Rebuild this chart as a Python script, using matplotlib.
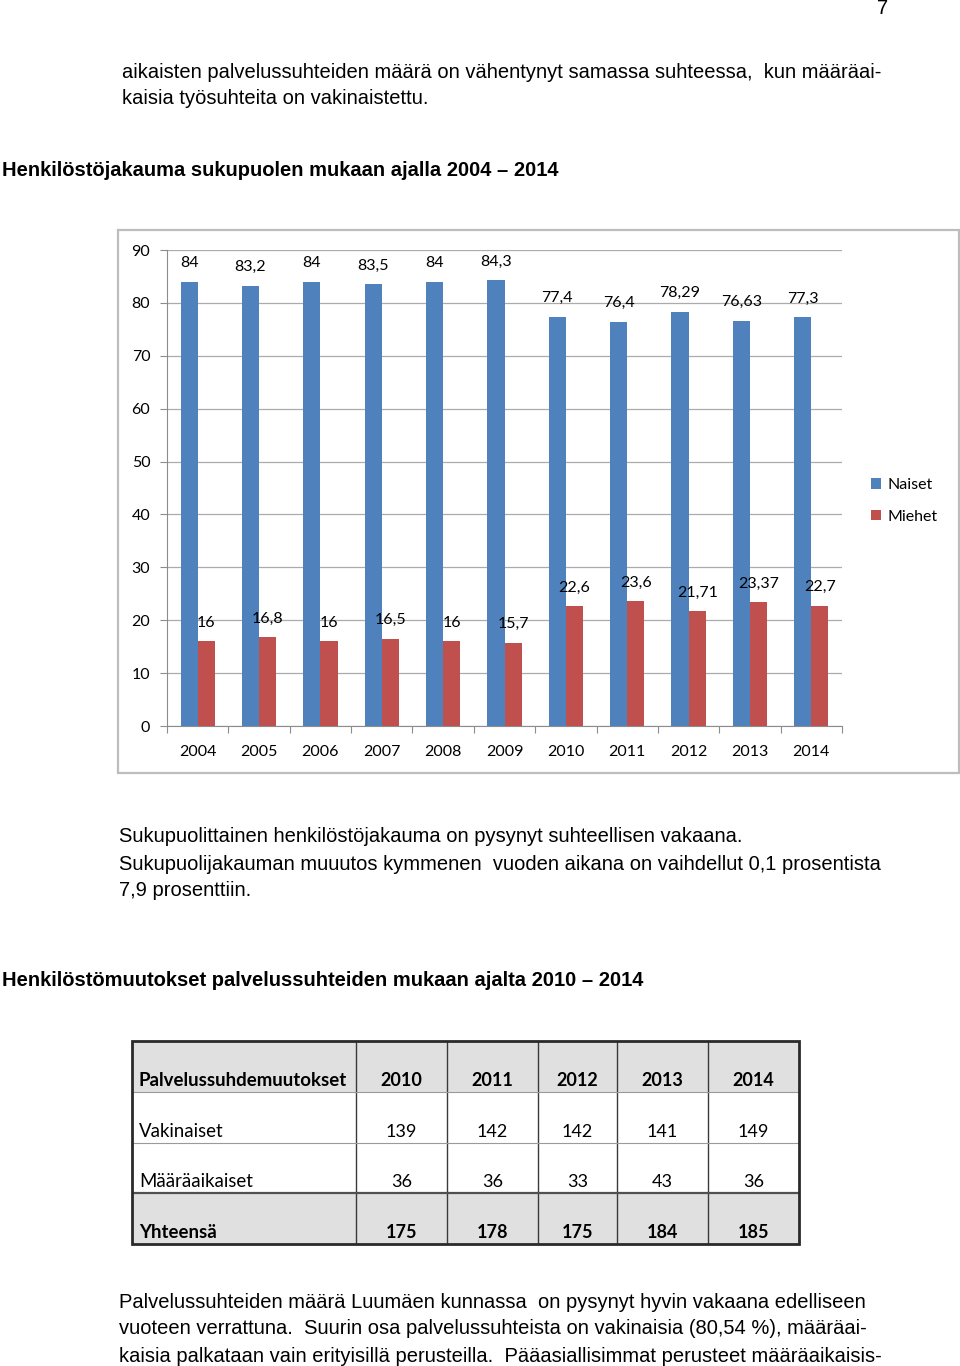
import matplotlib
matplotlib.use('Agg')
import matplotlib.pyplot as plt
from matplotlib.patches import Rectangle

# chart data
years = ['2004', '2005', '2006', '2007', '2008', '2009', '2010', '2011', '2012', '2013', '2014']
naiset = [84, 83.2, 84, 83.5, 84, 84.3, 77.4, 76.4, 78.29, 76.63, 77.3]
miehet = [16, 16.8, 16, 16.5, 16, 15.7, 22.6, 23.6, 21.71, 23.37, 22.7]

# table data
tbl_years = ['2010', '2011', '2012', '2013', '2014']
vakinaiset = [139, 142, 142, 141, 149]
maaraaikaiset = [36, 36, 33, 43, 36]
yhteensa = [175, 178, 175, 184, 185]

W, H = 960, 1366
BLUE = '#4f81bd'
RED = '#c0504d'
BODY = 'Liberation Sans'
CHART = 'Lato'

fig = plt.figure(figsize=(W / 100, H / 100), dpi=100)
fig.patch.set_facecolor('white')


def ftext(x, y, s, **kw):
    # x, y in pixels from top-left
    kw.setdefault('family', BODY)
    kw.setdefault('fontsize', 14.5)
    kw.setdefault('va', 'center')
    fig.text(x / W, 1 - y / H, s, **kw)


ftext(888, 8, '7', ha='right')
ftext(122, 72, 'aikaisten palvelussuhteiden määrä on vähentynyt samassa suhteessa,  kun määräai-')
ftext(122, 99, 'kaisia työsuhteita on vakinaistettu.')
ftext(2, 170, 'Henkilöstöjakauma sukupuolen mukaan ajalla 2004 – 2014', fontweight='bold')

ftext(119, 837, 'Sukupuolittainen henkilöstöjakauma on pysynyt suhteellisen vakaana.')
ftext(119, 864, 'Sukupuolijakauman muuutos kymmenen  vuoden aikana on vaihdellut 0,1 prosentista')
ftext(119, 891, '7,9 prosenttiin.')
ftext(2, 981, 'Henkilöstömuutokset palvelussuhteiden mukaan ajalta 2010 – 2014', fontweight='bold')

ftext(119, 1302, 'Palvelussuhteiden määrä Luumäen kunnassa  on pysynyt hyvin vakaana edelliseen')
ftext(119, 1329, 'vuoteen verrattuna.  Suurin osa palvelussuhteista on vakinaisia (80,54 %), määräai-')
ftext(119, 1356, 'kaisia palkataan vain erityisillä perusteilla.  Pääasiallisimmat perusteet määräaikaisis-')

# chart frame
fig.patches.append(Rectangle((118 / W, 1 - 773 / H), (959 - 118) / W, (773 - 230) / H,
                             transform=fig.transFigure, fill=False, edgecolor='#bdbdbd', lw=1.6))

# bar chart
ax = fig.add_axes([167 / W, 1 - 726 / H, (842 - 167) / W, (726 - 250) / H])
x = list(range(len(years)))
bw = 0.28
b1 = ax.bar([i - bw / 2 for i in x], naiset, bw, color=BLUE, label='Naiset', zorder=3)
b2 = ax.bar([i + bw / 2 for i in x], miehet, bw, color=RED, label='Miehet', zorder=3)
ax.set_xlim(-0.5, len(years) - 0.5)
ax.set_ylim(0, 90)
ax.set_yticks(range(0, 91, 10))
ax.yaxis.grid(True, color='#ababab', lw=0.9, zorder=0)
for s in ['top', 'right']:
    ax.spines[s].set_visible(False)
for s in ['left', 'bottom']:
    ax.spines[s].set_color('#8c8c8c')
ax.set_xticks([i + 0.5 for i in range(-1, len(years))], minor=False)
ax.set_xticklabels([])
ax.tick_params(axis='x', length=5, color='#8c8c8c')
ax.set_xticks(x, minor=True)
ax.set_xticklabels(years, minor=True)
ax.tick_params(axis='x', which='minor', length=0, pad=14, labelsize=11.5)
ax.tick_params(axis='y', length=5, color='#8c8c8c', pad=7, labelsize=11.5)
for lab in ax.get_xticklabels(minor=True) + ax.get_yticklabels():
    lab.set_family(CHART)


def fmt(v):
    return ('%g' % v).replace('.', ',')


for bars, vals in [(b1, naiset), (b2, miehet)]:
    for r, v in zip(bars, vals):
        ax.annotate(fmt(v), (r.get_x() + r.get_width() / 2, v), xytext=(0, 13.5),
                    textcoords='offset points', ha='center', va='center',
                    fontsize=11.5, family=CHART, zorder=4)

leg = ax.legend(loc='center left', bbox_to_anchor=(1.034, 0.473), frameon=False, borderaxespad=0,
                prop={'family': CHART, 'size': 11.5}, handlelength=0.6, handleheight=0.6,
                handletextpad=0.4, labelspacing=1.1)

# table
tx0, tx1, ty0, ty1 = 132, 799, 1041, 1244
tax = fig.add_axes([tx0 / W, 1 - ty1 / H, (tx1 - tx0) / W, (ty1 - ty0) / H])
tax.set_xlim(0, tx1 - tx0)
tax.set_ylim(ty1 - ty0, 0)
tax.axis('off')
col_w = [224, 91, 91, 79, 91, 91]
row_h = [51, 51, 50, 51]
cx = [sum(col_w[:i]) for i in range(len(col_w) + 1)]
ry = [sum(row_h[:i]) for i in range(len(row_h) + 1)]
rows = [
    (['Palvelussuhdemuutokset'] + tbl_years, True, '#e0e0e0'),
    (['Vakinaiset'] + [str(v) for v in vakinaiset], False, 'white'),
    (['Määräaikaiset'] + [str(v) for v in maaraaikaiset], False, 'white'),
    (['Yhteensä'] + [str(v) for v in yhteensa], True, '#e0e0e0'),
]
for r, (cells, bold, bg) in enumerate(rows):
    tax.add_patch(Rectangle((0, ry[r]), cx[-1], row_h[r], facecolor=bg, edgecolor='none', zorder=1))
    for c, s in enumerate(cells):
        xx = cx[c] + 7 if c == 0 else (cx[c] + cx[c + 1]) / 2
        fs = 13.4 if c == 0 else 13
        tax.text(xx, ry[r + 1] - 3, s, ha='left' if c == 0 else 'center', va='bottom',
                 family=CHART, fontsize=fs, fontweight='bold' if bold else 'normal', zorder=3)
for xx in cx[1:-1]:
    tax.plot([xx, xx], [0, ry[-1]], color='#3a3a3a', lw=1.0, zorder=2)
tax.plot([0, cx[-1]], [ry[1], ry[1]], color='#9a9a9a', lw=0.8, zorder=2)
tax.plot([0, cx[-1]], [ry[2], ry[2]], color='#9a9a9a', lw=0.8, zorder=2)
tax.plot([0, cx[-1]], [ry[3], ry[3]], color='#505050', lw=1.6, zorder=2)
tax.add_patch(Rectangle((0, 0), cx[-1], ry[-1], fill=False, edgecolor='#2a2a2a', lw=2.0, zorder=4,
                        clip_on=False))

fig.savefig('out.png', dpi=100)
